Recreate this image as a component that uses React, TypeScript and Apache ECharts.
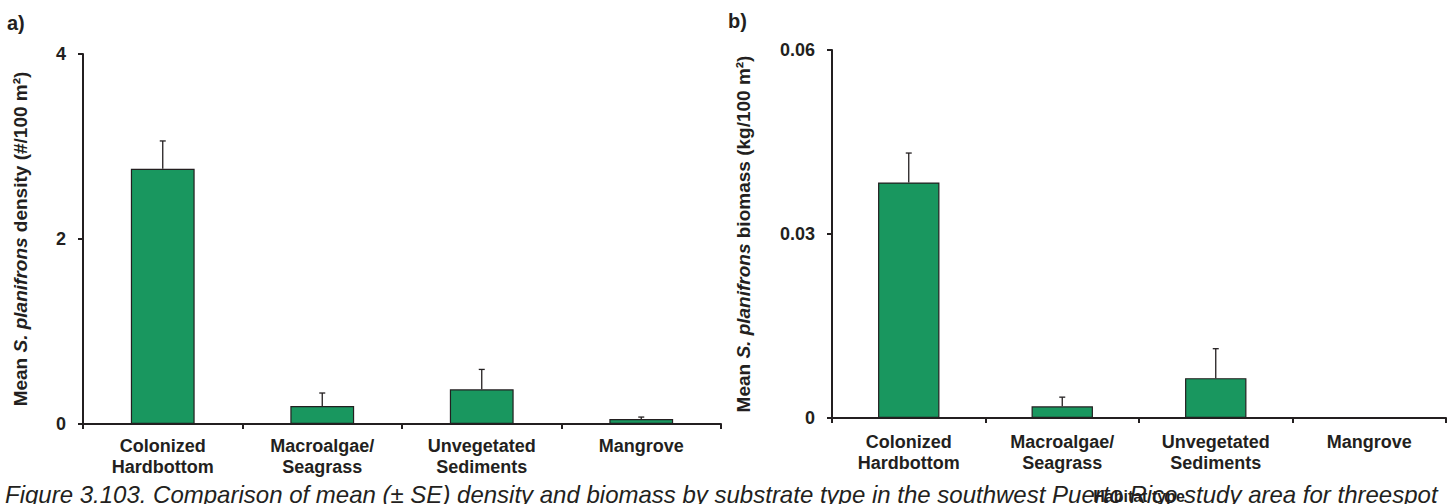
import React, { useEffect, useRef } from "react";
import * as echarts from "echarts";

const categories = ["Colonized\nHardbottom", "Macroalgae/\nSeagrass", "Unvegetated\nSediments", "Mangrove"];
const densityMean = [2.76, 0.195, 0.375, 0.054];
const densitySE = [0.3, 0.14, 0.215, 0.021];
const biomassMean = [0.0384, 0.0019, 0.0065, 0.00005];
const biomassSE = [0.0048, 0.0015, 0.0048, 0];
const densityTicks = { min: 0, max: 4, interval: 2 };
const biomassTicks = { min: 0, max: 0.06, interval: 0.03 };

const FONT = "'Liberation Sans', Arial, sans-serif";
const INK = "#231f20";
const GREEN = "#19975f";

const caption =
  "Figure 3.103. Comparison of mean (± SE) density and biomass by substrate type in the southwest Puerto Rico study area for threespot";

function errorRender(params: any, api: any) {
  const idx = api.value(0);
  const base = api.coord([idx, api.value(1)]);
  const top = api.coord([idx, api.value(2)]);
  if (api.value(2) <= api.value(1)) return { type: "group", children: [] };
  return {
    type: "group",
    children: [
      { type: "line", shape: { x1: base[0], y1: base[1], x2: top[0], y2: top[1] }, style: { stroke: INK, lineWidth: 1.3 } },
      { type: "line", shape: { x1: top[0] - 3, y1: top[1], x2: top[0] + 3, y2: top[1] }, style: { stroke: INK, lineWidth: 1.3 } },
    ],
  };
}

export default function App() {
  const ref = useRef<HTMLDivElement>(null);
  useEffect(() => {
    if (!ref.current) return;
    const chart = echarts.init(ref.current, null, { renderer: "svg" });
    const axisLine = { show: true, lineStyle: { color: INK, width: 2 } };
    const axisTick = { show: true, length: 5, lineStyle: { color: INK, width: 2 } };
    const xLabel = (margin: number) => ({
      interval: 0,
      fontFamily: FONT,
      fontWeight: "bold" as const,
      fontSize: 18,
      lineHeight: 21,
      color: INK,
      margin,
    });
    const yLabel = { fontFamily: FONT, fontWeight: "bold" as const, fontSize: 18, color: INK, margin: 17 };
    const nameRich = {
      b: { fontFamily: FONT, fontWeight: "bold", fontSize: 19, color: INK },
      i: { fontFamily: FONT, fontWeight: "bold", fontStyle: "italic", fontSize: 19, color: INK },
    };
    const option: any = {
      animation: false,
      grid: [
        { left: 83, top: 54, width: 638, height: 370, outerBoundsMode: "none", containLabel: false },
        { left: 832, top: 50, width: 614, height: 368, outerBoundsMode: "none", containLabel: false },
      ],
      xAxis: [
        { type: "category", gridIndex: 0, data: categories, axisLine, axisTick, axisLabel: xLabel(11) },
        {
          type: "category",
          gridIndex: 1,
          data: categories,
          axisLine,
          axisTick,
          axisLabel: xLabel(13),
          name: "Habitat type",
          nameLocation: "middle",
          nameGap: 70,
          nameTextStyle: { fontFamily: FONT, fontWeight: "bold", fontSize: 16, color: INK },
        },
      ],
      yAxis: [
        {
          type: "value",
          gridIndex: 0,
          ...densityTicks,
          axisLine,
          axisTick,
          axisLabel: yLabel,
          splitLine: { show: false },
          name: "{b|Mean }{i|S. planifrons}{b| density (#/100 m²)}",
          nameLocation: "middle",
          nameRotate: 90,
          nameGap: 53,
          nameTextStyle: { rich: nameRich },
        },
        {
          type: "value",
          gridIndex: 1,
          ...biomassTicks,
          axisLine,
          axisTick,
          axisLabel: yLabel,
          splitLine: { show: false },
          name: "{b|Mean }{i|S. planifrons}{b| biomass (kg/100 m²)}",
          nameLocation: "middle",
          nameRotate: 90,
          nameGap: 79,
          nameTextStyle: { rich: nameRich },
        },
      ],
      series: [
        {
          type: "bar",
          xAxisIndex: 0,
          yAxisIndex: 0,
          data: densityMean,
          barWidth: "40%",
          itemStyle: { color: GREEN, borderColor: INK, borderWidth: 1.2 },
        },
        {
          type: "custom",
          xAxisIndex: 0,
          yAxisIndex: 0,
          renderItem: errorRender,
          data: densityMean.map((m, i) => [i, m, m + densitySE[i]]),
          z: 3,
        },
        {
          type: "bar",
          xAxisIndex: 1,
          yAxisIndex: 1,
          data: biomassMean,
          barWidth: "40%",
          itemStyle: { color: GREEN, borderColor: INK, borderWidth: 1.2 },
        },
        {
          type: "custom",
          xAxisIndex: 1,
          yAxisIndex: 1,
          renderItem: errorRender,
          data: biomassMean.map((m, i) => [i, m, m + biomassSE[i]]),
          z: 3,
        },
      ],
      graphic: [
        { type: "text", left: 7, top: 13, style: { text: "a)", font: `bold 20px ${FONT}`, fill: INK } },
        { type: "text", left: 728, top: 11, style: { text: "b)", font: `bold 20px ${FONT}`, fill: INK } },
        { type: "text", left: 5, top: 482, z: -1, style: { text: caption, font: `italic 24px ${FONT}`, fill: INK } },
      ],
    };
    chart.setOption(option);
    return () => chart.dispose();
  }, []);
  return (
    <div
      ref={ref}
      style={{ position: "fixed", left: 0, top: 0, width: 1449, height: 504, background: "#fff" }}
    />
  );
}
